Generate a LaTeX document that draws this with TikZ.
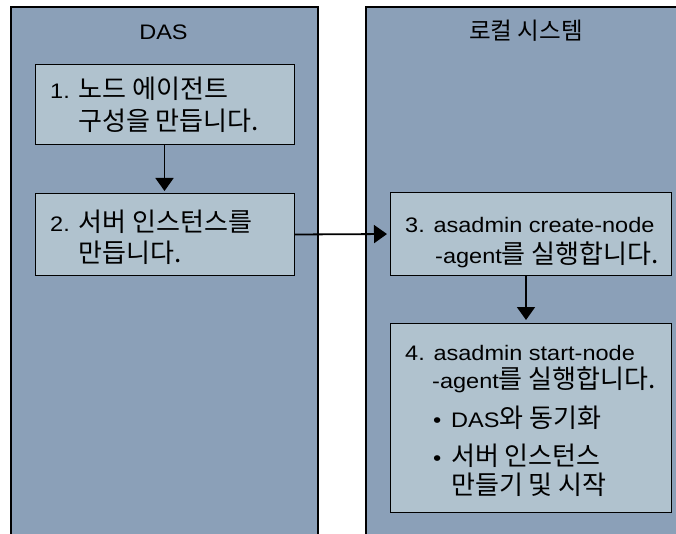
\documentclass[tikz,border=0pt]{standalone}
\usepackage{fontspec}
\setmainfont{Liberation Sans}[FakeStretch=1.12]
\newfontfamily\kr{Noto Sans CJK KR}[Scale=1.24]
\usetikzlibrary{arrows.meta}
\definecolor{lanefill}{RGB}{139,160,184}
\definecolor{boxfill}{RGB}{176,194,206}
\begin{document}
\begin{tikzpicture}[x=1pt,y=-1pt,
  laneborder/.style={line width=2pt, draw=black},
  stepbox/.style={draw=black, line width=1pt, fill=boxfill, inner sep=0pt, outer sep=0pt},
  txt/.style={anchor=base west, inner sep=0pt, font=\fontsize{21}{26}\selectfont},
  title/.style={anchor=base, inner sep=0pt, font=\fontsize{21}{26}\selectfont},
  conn/.style={line width=1.8pt, -{Triangle[length=13pt,width=18pt]}, shorten >=3pt}]
\useasboundingbox (0,0) rectangle (676,534);
% lanes
\fill[lanefill] (11,7) rectangle (318,534);
\draw[laneborder] (11,535) -- (11,7) -- (318,7) -- (318,535);
\fill[lanefill] (366,7) rectangle (680,534);
\draw[laneborder] (366,535) -- (366,7) -- (680,7);
\node[title] (das) at (163.5,40) {DAS};
\node[title] (local) at (526,40) {\fontsize{19}{24}\selectfont\kr 로컬 시스템};
% boxes
\node[stepbox, minimum width=259pt, minimum height=80pt] (b1) at (164.5,105) {};
\node[stepbox, minimum width=259pt, minimum height=81pt] (b2) at (164.5,234.5) {};
\node[stepbox, minimum width=281pt, minimum height=82pt] (b3) at (530.5,234) {};
\node[stepbox, minimum width=281pt, minimum height=189pt] (b4) at (530.5,417.5) {};
% texts
\node[txt] (t1a) at (50,99) {1. {\kr 노드 에이전트}};
\node[txt] (t1b) at (78,131) {\kr 구성을 만듭니다.};
\node[txt] (t2a) at (50,232) {2. {\kr 서버 인스턴스를}};
\node[txt] (t2b) at (78,262) {\kr 만듭니다.};
\node[txt] (t3a) at (405,233) {3. asadmin create-node};
\node[txt] (t3b) at (435,263) {-agent{\kr 를 실행합니다.}};
\node[txt] (t4a) at (405,360) {4. asadmin start-node};
\node[txt] (t4b) at (432,388) {-agent{\kr 를 실행합니다.}};
\node[txt] (t4c) at (433,427) {\makebox[18pt][l]{•}DAS{\kr 와 동기화}};
\node[txt] (t4d) at (433,465) {\makebox[18pt][l]{•}{\kr 서버 인스턴스}};
\node[txt] (t4e) at (451,494) {\kr 만들기 및 시작};
% connectors
\draw[conn] (b1) -- (b2);
\draw[conn] (b2.east) -- (b3.west);
\draw[conn] ([xshift=-4.5pt]b3.south) -- ([xshift=-4.5pt]b4.north);
\end{tikzpicture}
\end{document}
